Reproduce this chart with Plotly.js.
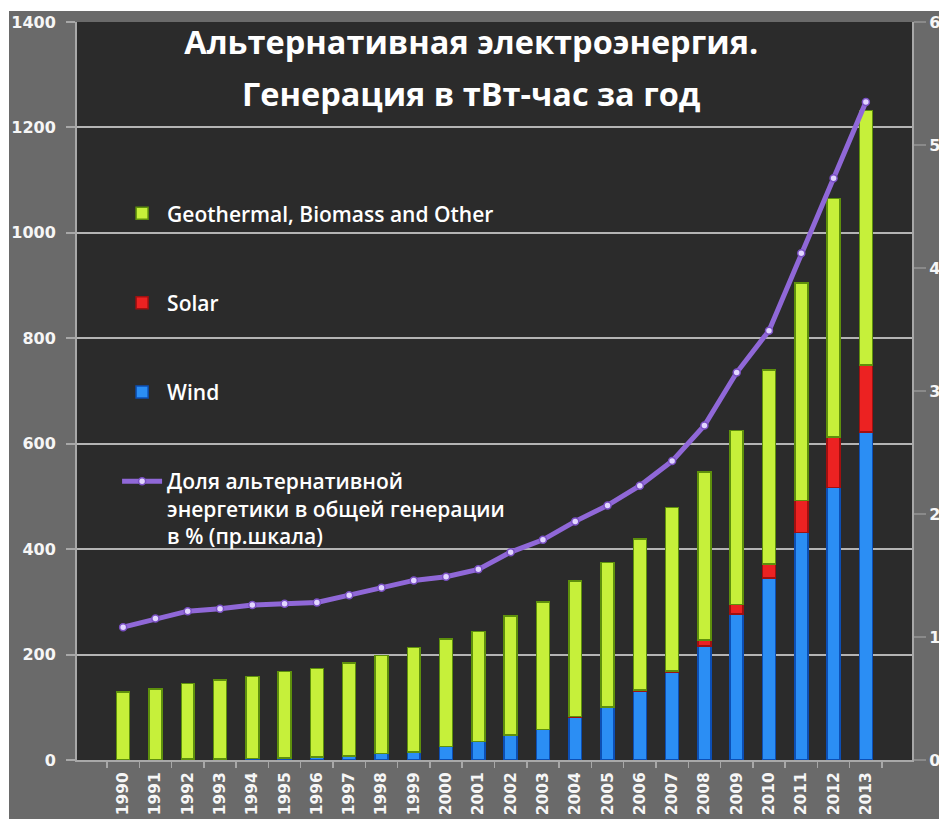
<!DOCTYPE html>
<html>
<head>
<meta charset="utf-8">
<script src="https://cdn.plot.ly/plotly-3.0.1.min.js"></script>
<style>
  html, body { margin: 0; padding: 0; background: #ffffff; }
  #chart { position: absolute; left: 9px; top: 11px; width: 930px; height: 808px; }
</style>
</head>
<body>
<div id="chart"></div>
<script>
// Categories
const years = ['1990','1991','1992','1993','1994','1995','1996','1997','1998','1999','2000','2001',
               '2002','2003','2004','2005','2006','2007','2008','2009','2010','2011','2012','2013'];

// Generation, TWh per year (left axis)
const wind  = [1, 1, 2, 2, 3, 4, 6, 8, 12, 15, 26, 35, 47, 58, 82, 100, 131, 166, 216, 277, 345, 432, 517, 622];
const solar = [0, 0, 0, 0, 0, 0, 0, 0, 0, 0, 0, 0, 0, 0, 1, 1, 2, 3, 12, 18, 27, 60, 96, 127];
const other = [128, 134, 143, 150, 155, 164, 168, 176, 186, 198, 204, 209, 226, 242, 257, 274, 286, 310, 318, 330, 368, 413, 452, 483];

// Share of alternative energy in total generation, % (right axis)
const share = [1.08, 1.15, 1.21, 1.23, 1.26, 1.27, 1.28, 1.34, 1.40, 1.46, 1.49, 1.55,
               1.69, 1.79, 1.94, 2.07, 2.23, 2.43, 2.72, 3.15, 3.49, 4.12, 4.73, 5.35];

// Labels
const titleLine1 = 'Альтернативная электроэнергия.';
const titleLine2 = 'Генерация в тВт-час за год';
const nameOther = 'Geothermal, Biomass and Other';
const nameSolar = 'Solar';
const nameWind  = 'Wind';
const nameShare = 'Доля альтернативной<br>энергетики в общей генерации<br>в % (пр.шкала)';
const leftTicks  = [0, 200, 400, 600, 800, 1000, 1200, 1400];
const rightTicks = [0, 1, 2, 3, 4, 5, 6];

const traces = [
  { type: 'bar', x: years, y: wind, name: nameWind, legendgroup: 'w', legendrank: 3,
    marker: { color: '#2b8ef4', line: { color: '#0c4fb5', width: 1.5 } } },
  { type: 'bar', x: years, y: solar, name: nameSolar, legendgroup: 's', legendrank: 2,
    marker: { color: '#ec2222', line: { color: '#a01010', width: 1.5 } } },
  { type: 'bar', x: years, y: other, name: nameOther, legendgroup: 'o', legendrank: 1,
    marker: { color: '#c6f03a', line: { color: '#5e900c', width: 1.5 } } },
  { type: 'scatter', mode: 'lines+markers', x: years, y: share, yaxis: 'y2', name: nameShare,
    legendgroup: 'p', legendrank: 4,
    line: { color: '#9068d8', width: 5 },
    marker: { size: 7, color: '#e2d6ff', line: { color: '#7a50c4', width: 1.5 } } }
];

const tickFont = { family: 'DejaVu Sans', size: 16, color: '#f6f6f6', weight: 'bold' };

const layout = {
  width: 930, height: 808,
  paper_bgcolor: '#6a6a6a',
  plot_bgcolor: '#2b2b2b',
  margin: { l: 68, r: 27, t: 11, b: 59 },
  barmode: 'stack',
  bargap: 0.6,
  showlegend: true,
  title: {
    text: '<span style="font-size:32.5px">' + titleLine1 + '</span><br><span style="font-size:32.5px">' + titleLine2 + '</span>',
    font: { family: 'Open Sans', size: 40.5, color: '#ffffff', weight: 'bold' },
    x: 0.497, xanchor: 'center', xref: 'container',
    y: 0.947, yanchor: 'top', yref: 'container'
  },
  legend: {
    x: 0.048, xanchor: 'left', y: 0.768, yanchor: 'top',
    bgcolor: 'rgba(0,0,0,0)',
    font: { family: 'Open Sans', size: 21, color: '#ffffff', weight: 600 },
    traceorder: 'grouped',
    tracegroupgap: 59,
    valign: 'top',
    itemwidth: 40
  },
  xaxis: {
    type: 'category',
    tickangle: -90,
    tickfont: { family: 'DejaVu Sans', size: 15.5, color: '#f6f6f6', weight: 'bold' },
    ticks: 'outside', tickson: 'boundaries', ticklen: 6, tickcolor: '#a8a8a8', tickwidth: 1.5,
    ticklabelstandoff: 4,
    showline: true, linecolor: '#a8a8a8', linewidth: 2,
    showgrid: false
  },
  yaxis: {
    range: [0, 1400],
    tickvals: leftTicks,
    tickfont: tickFont,
    ticks: 'outside', ticklen: 9, tickcolor: '#a8a8a8', tickwidth: 2,
    ticklabelstandoff: 7,
    showline: true, linecolor: '#a8a8a8', linewidth: 2,
    showgrid: true, gridcolor: '#b4b4b4', gridwidth: 2,
    zeroline: false
  },
  yaxis2: {
    overlaying: 'y', side: 'right',
    range: [0, 6],
    tickvals: rightTicks,
    tickfont: tickFont,
    ticks: 'outside', ticklen: 12, tickcolor: '#8a8a8a', tickwidth: 1.5,
    showline: true, linecolor: '#a8a8a8', linewidth: 2,
    showgrid: false, zeroline: false
  },
  hovermode: false
};

Plotly.newPlot('chart', traces, layout, { displayModeBar: false, staticPlot: true });
</script>
</body>
</html>
